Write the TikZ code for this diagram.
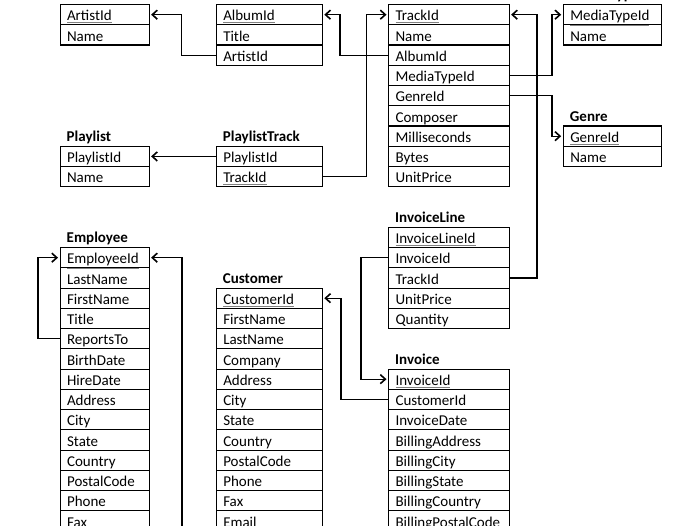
\documentclass[tikz,border=0pt]{standalone}
\usepackage{fontspec}
\setmainfont{Carlito}
\usetikzlibrary{arrows.meta}
\newcommand{\keyfield}[1]{\textcolor{gray}{\underline{\textcolor{black}{#1}}}}
\begin{document}
\begin{tikzpicture}
[x=1pt,y=-1pt,
 titledecorate/.style={anchor=base west,inner sep=0pt,font=\fontsize{15}{18}\selectfont\bfseries},%
 fielddecorate/.style={shape=rectangle,draw,line width=1.1pt,anchor=north west,
   inner xsep=7pt,inner ysep=0pt,minimum height=20.25pt,
   text height=14pt,text depth=1.5pt,align=left,font=\fontsize{15}{18}\selectfont},%
 linkdecorate/.style={-{Straight Barb[length=5pt,width=9pt,line width=1.6pt]},line width=1.3pt,shorten >=1.5pt}]
\useasboundingbox (0,0) rectangle (700,526);
%% tables: name/title/x/row/width/keys/fields
\foreach \tablename/\tabletitle/\x/\row/\w/\keys/\fields in {
  Artist/{}/59.5/0/89/1/{ArtistId,Name},
  Album/{}/215.7/0/106/1/{AlbumId,Title,ArtistId},
  Track/{}/388/0/120.5/1/{TrackId,Name,AlbumId,MediaTypeId,GenreId,Composer,Milliseconds,Bytes,UnitPrice},
  MediaType/MediaType/562.7/0/98.5/1/{MediaTypeId,Name},
  Genre/Genre/562.7/6/98.5/1/{GenreId,Name},
  Playlist/Playlist/59.5/7/89/1/{PlaylistId,Name},
  PlaylistTrack/PlaylistTrack/215.7/7/106/2/{PlaylistId,TrackId},
  InvoiceLine/InvoiceLine/388/11/120.5/1/{InvoiceLineId,InvoiceId,TrackId,UnitPrice,Quantity},
  Employee/Employee/59.5/12/89/1/{EmployeeId,LastName,FirstName,Title,ReportsTo,BirthDate,HireDate,Address,City,State,Country,PostalCode,Phone,Fax},
  Customer/Customer/215.7/14/106/1/{CustomerId,FirstName,LastName,Company,Address,City,State,Country,PostalCode,Phone,Fax,Email},
  Invoice/Invoice/388/18/120.5/1/{InvoiceId,CustomerId,InvoiceDate,BillingAddress,BillingCity,BillingState,BillingCountry,BillingPostalCode}} {
  \pgfmathsetmacro\tw{\w-14}
  \node (\tablename) at ({\x+7},{\row*20.25}) [titledecorate] {\tabletitle};
  \foreach \field [count=\i from 0] in \fields {
    \node (\tablename-\field) at (\x,{4+(\row+\i)*20.25}) [fielddecorate,text width=\tw pt]
      {\ifnum\i<\keys\relax\keyfield{\field}\else\field\fi};
  }
}
%% free end of the link from Customer.SupportRepId
\coordinate (SupportRep) at (182,540);
%% links
\foreach \startnode/\dx/\endnode in {
  Album-ArtistId.west/-34/Artist-ArtistId.east,
  Track-AlbumId.west/-48/Album-AlbumId.east,
  PlaylistTrack-TrackId.east/44/Track-TrackId.west,
  PlaylistTrack-PlaylistId.west/0/Playlist-PlaylistId.east,
  Track-MediaTypeId.east/42.4/MediaType-MediaTypeId.west,
  Track-GenreId.east/42.4/Genre-GenreId.west,
  InvoiceLine-TrackId.east/27.5/Track-TrackId.east,
  InvoiceLine-InvoiceId.west/-27/Invoice-InvoiceId.west,
  Invoice-CustomerId.west/-47/Customer-CustomerId.east,
  SupportRep/0/Employee-EmployeeId.east,
  Employee-ReportsTo.west/-21.5/Employee-EmployeeId.west} {
  \draw[linkdecorate] (\startnode) -- ++(\dx,0) |- (\endnode);
}
\end{tikzpicture}
\end{document}
